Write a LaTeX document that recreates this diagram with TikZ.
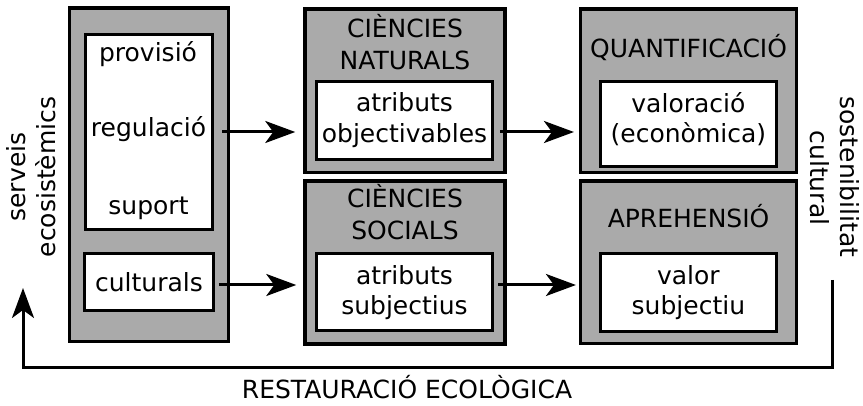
\documentclass[tikz,border=0pt]{standalone}
\usepackage{fontspec}
\setmainfont{DejaVu Sans}
\usetikzlibrary{arrows.meta}
\definecolor{boxgray}{RGB}{170,170,170}
\begin{document}
\begin{tikzpicture}[x=1pt,y=-1pt,
  font=\fontsize{25}{30}\selectfont,
  outerbox/.style={draw=black,fill=boxgray,line width=3.5pt,inner sep=0pt},
  innerbox/.style={draw=black,fill=white,line width=3pt,inner sep=0pt},
  txt/.style={anchor=base,inner sep=0pt},
  arr/.style={line width=3pt,-{Stealth[length=30pt,width=22pt,inset=8pt]}}]
\useasboundingbox (0,0) rectangle (863,406);
% left column
\node[outerbox,minimum width=158.8pt,minimum height=333.7pt] (servO) at (148.9,174.65) {};
\node[innerbox,minimum width=127.8pt,minimum height=194.4pt] (servA) at (148.9,132.2) {};
\node[innerbox,minimum width=128.5pt,minimum height=56.7pt] (servB) at (149.2,282.35) {};
\node[txt] (prov) at (148,62) {provisió};
\node[txt] (reg) at (148.5,137) {regulació};
\node[txt] (sup) at (148.5,215) {suport};
\node[txt] (cult) at (149,292) {culturals};
% middle column
\node[outerbox,minimum width=200pt,minimum height=163.3pt] (natO) at (405,90.65) {};
\node[innerbox,minimum width=176pt,minimum height=77.7pt] (natI) at (404.5,120.35) {};
\node[txt] (natT1) at (405,38) {CIÈNCIES};
\node[txt] (natT2) at (405,70) {NATURALS};
\node[txt] (natI1) at (404.5,112) {atributs};
\node[txt] (natI2) at (404.5,143) {objectivables};
\node[outerbox,minimum width=200pt,minimum height=163.2pt] (socO) at (405,262.4) {};
\node[innerbox,minimum width=176pt,minimum height=77pt] (socI) at (404.5,291.7) {};
\node[txt] (socT1) at (405,208) {CIÈNCIES};
\node[txt] (socT2) at (405,240) {SOCIALS};
\node[txt] (socI1) at (404.5,285) {atributs};
\node[txt] (socI2) at (404.5,315) {subjectius};
% right column
\node[outerbox,minimum width=215.8pt,minimum height=163.3pt] (quaO) at (688.6,90.65) {};
\node[innerbox,minimum width=176.8pt,minimum height=85.3pt] (quaI) at (688.4,124.15) {};
\node[txt] (quaT) at (688.6,58) {QUANTIFICACIÓ};
\node[txt] (quaI1) at (688.4,113) {valoració};
\node[txt] (quaI2) at (688.4,143) {(econòmica)};
\node[outerbox,minimum width=215.8pt,minimum height=162.5pt] (aprO) at (688.6,262.05) {};
\node[innerbox,minimum width=176.8pt,minimum height=78.5pt] (aprI) at (688.4,292.45) {};
\node[txt] (aprT) at (688.6,228) {APREHENSIÓ};
\node[txt] (aprI1) at (688.4,285) {valor};
\node[txt] (aprI2) at (688.4,315) {subjectiu};
% side labels
\node[txt,rotate=90] (serv1) at (25,177) {serveis};
\node[txt,rotate=90] (serv2) at (55,177) {ecosistèmics};
\node[txt,rotate=-90] (sost1) at (840,177) {sostenibilitat};
\node[txt,rotate=-90] (sost2) at (810,178) {cultural};
\node[txt] (rest) at (407,398) {RESTAURACIÓ ECOLÒGICA};
% arrows
\coordinate (rowA) at (0,132);
\coordinate (rowB) at (0,285);
\draw[arr] ([xshift=8pt]servA.east |- rowA) -- ([xshift=-8pt]natO.west |- rowA);
\draw[arr] ([xshift=4pt]servB.east |- rowB) -- ([xshift=-7pt]socO.west |- rowB);
\draw[arr] ([xshift=6pt]natI.east |- rowA) -- ([xshift=-5pt]quaO.west |- rowA);
\draw[arr] ([xshift=4pt]socI.east |- rowB) -- ([xshift=-3pt]aprO.west |- rowB);
% feedback loop
\coordinate (fbS) at (832,280);
\coordinate (fbE) at (23,288);
\draw[arr] (fbS) -- ++(0,88) -| (fbE);
\end{tikzpicture}
\end{document}
